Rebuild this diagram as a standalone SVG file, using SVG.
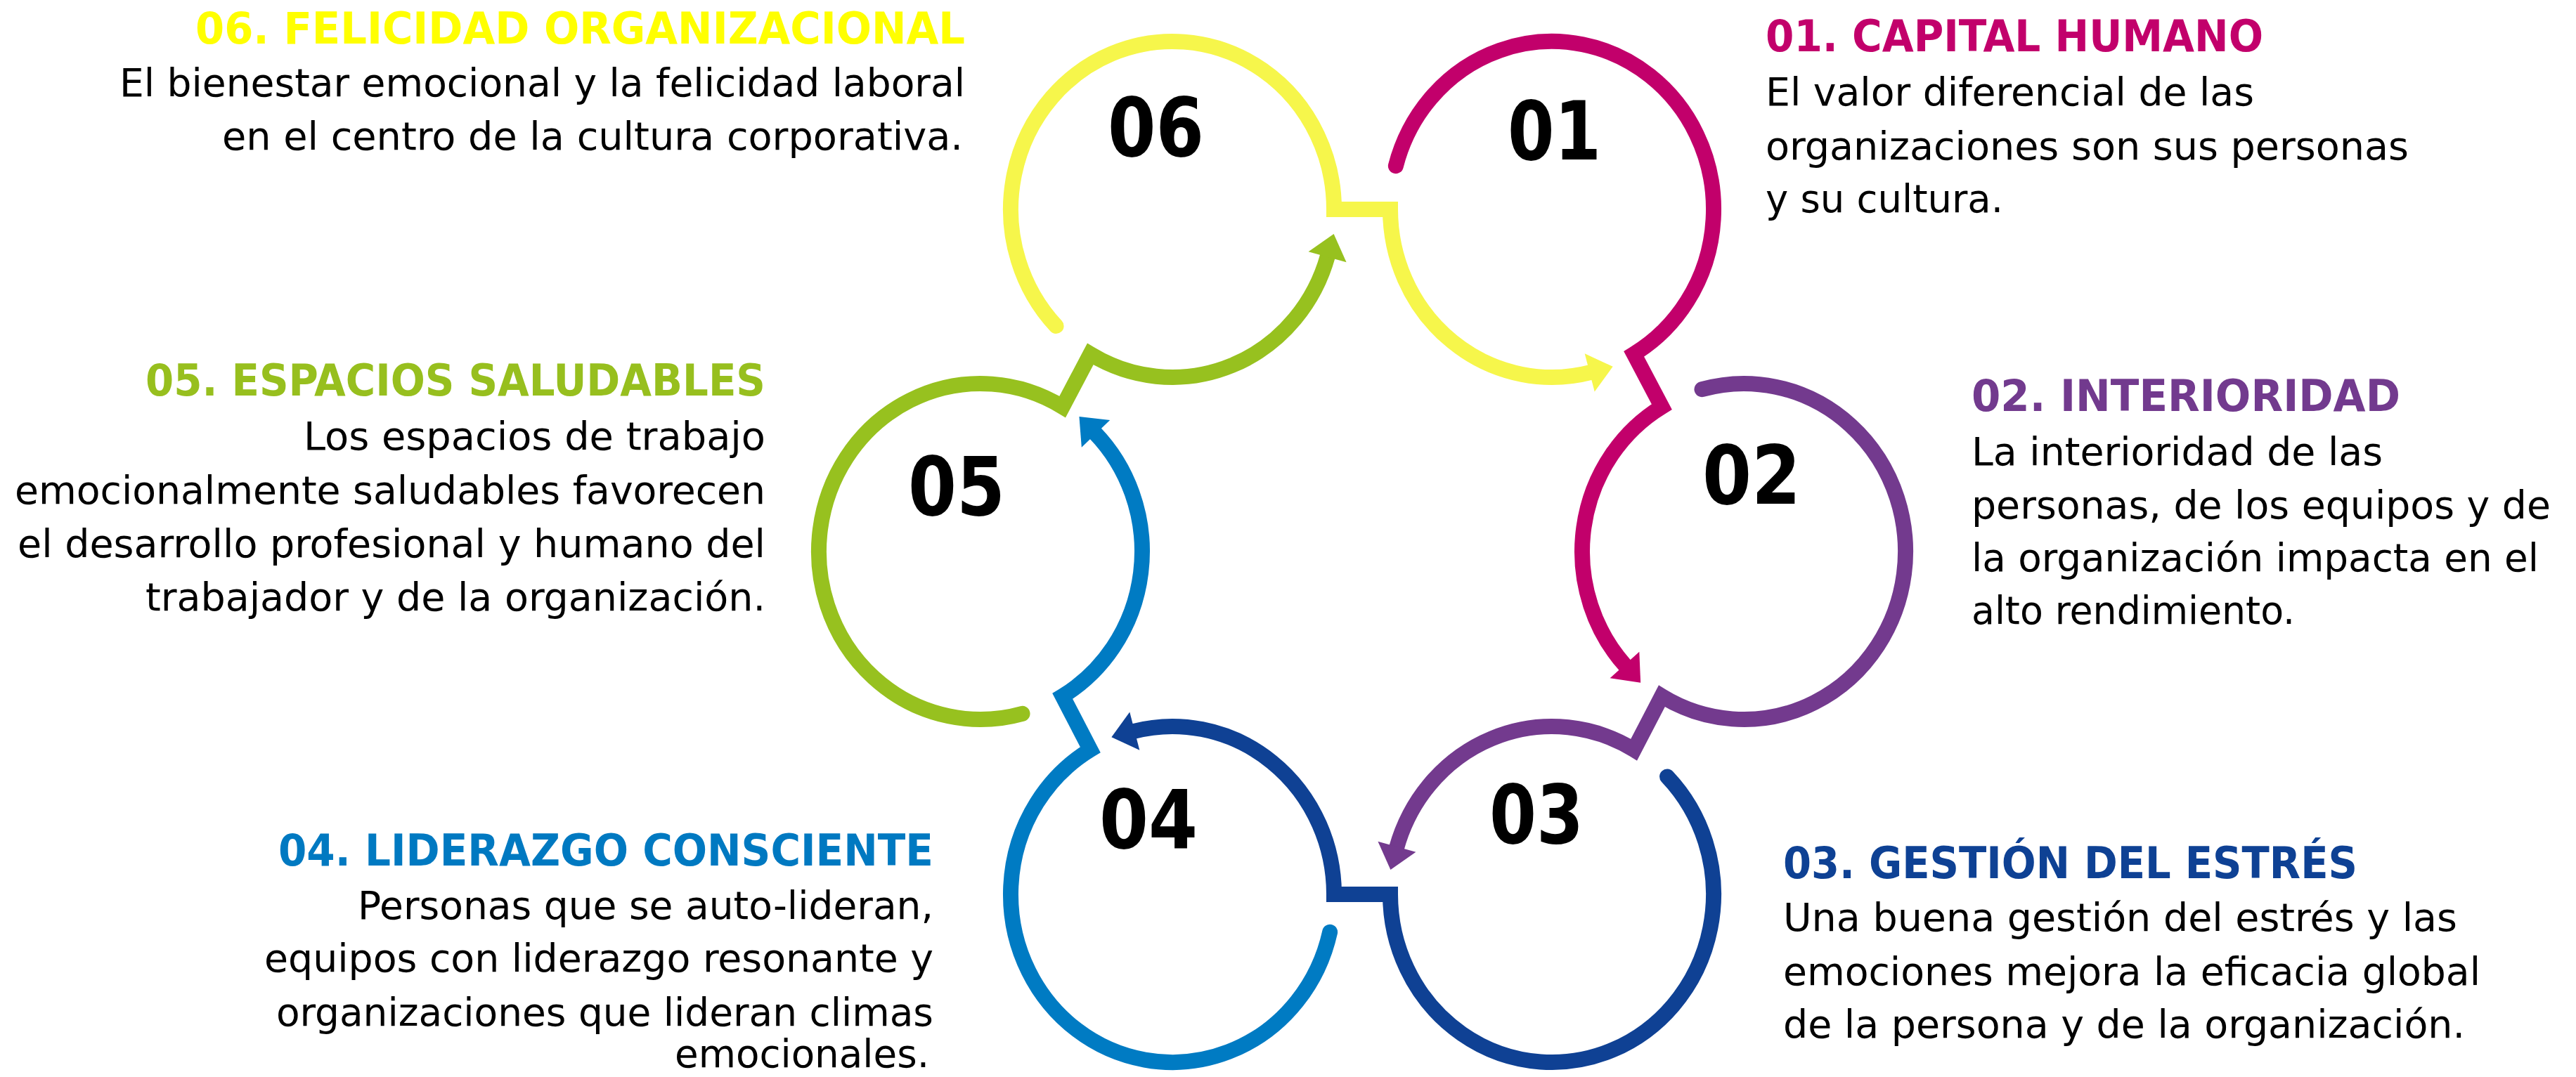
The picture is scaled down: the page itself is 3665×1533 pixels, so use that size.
<svg xmlns="http://www.w3.org/2000/svg" width="3665" height="1533" viewBox="0 0 3665 1533">
<style>
.ring{fill:none;stroke-width:22;stroke-linecap:round;stroke-linejoin:miter;stroke-miterlimit:6}
.t{font-family:"DejaVu Sans Condensed","DejaVu Sans",sans-serif;font-stretch:condensed;font-size:55px;fill:#000000}
.h{font-family:"DejaVu Sans Condensed","DejaVu Sans",sans-serif;font-stretch:condensed;font-weight:bold;font-size:62px}
.n{font-family:"DejaVu Sans Condensed","DejaVu Sans",sans-serif;font-stretch:condensed;font-weight:bold;font-size:115px;fill:#000000}
</style>
<defs>
<marker id="ah-y" markerUnits="userSpaceOnUse" markerWidth="40" markerHeight="64" refX="0" refY="32" orient="auto" overflow="visible"><path d="M-2,4 L32,32 L-2,60 Z" fill="#F6F64B"/></marker>
<marker id="ah-m" markerUnits="userSpaceOnUse" markerWidth="40" markerHeight="64" refX="0" refY="32" orient="auto" overflow="visible"><path d="M-2,4 L32,32 L-2,60 Z" fill="#C2006B"/></marker>
<marker id="ah-p" markerUnits="userSpaceOnUse" markerWidth="40" markerHeight="64" refX="0" refY="32" orient="auto" overflow="visible"><path d="M-2,4 L32,32 L-2,60 Z" fill="#733A8E"/></marker>
<marker id="ah-d" markerUnits="userSpaceOnUse" markerWidth="40" markerHeight="64" refX="0" refY="32" orient="auto" overflow="visible"><path d="M-2,4 L32,32 L-2,60 Z" fill="#0F4194"/></marker>
<marker id="ah-b" markerUnits="userSpaceOnUse" markerWidth="40" markerHeight="64" refX="0" refY="32" orient="auto" overflow="visible"><path d="M-2,4 L32,32 L-2,60 Z" fill="#007BC3"/></marker>
<marker id="ah-g" markerUnits="userSpaceOnUse" markerWidth="40" markerHeight="64" refX="0" refY="32" orient="auto" overflow="visible"><path d="M-2,4 L32,32 L-2,60 Z" fill="#97C11F"/></marker>
</defs>
<rect width="3665" height="1533" fill="#FFFFFF"/>
<g id="connectors">
<path class="ring" stroke="#F6F64B" marker-end="url(#ah-y)" d="M1502.55,464.02 A230,239 0 1 1 1898,298 L1978,298 A230,239 0 0 0 2263.64,529.90"/>
<path class="ring" stroke="#C2006B" marker-end="url(#ah-m)" d="M1985.84,236.14 A230,239 0 1 1 2324.7,503.9 L2364.3,579.1 A230,239 0 0 0 2312.79,948.00"/>
<path class="ring" stroke="#733A8E" marker-end="url(#ah-p)" d="M2421.47,554.14 A230,239 0 1 1 2364.3,990.9 L2324.7,1067.1 A230,239 0 0 0 1986.91,1207.12"/>
<path class="ring" stroke="#0F4194" marker-end="url(#ah-d)" d="M2372.05,1105.48 A230,239 0 1 1 1978,1273 L1898,1273 A230,239 0 0 0 1612.36,1041.10"/>
<path class="ring" stroke="#007BC3" marker-end="url(#ah-b)" d="M1892.11,1326.76 A230,239 0 1 1 1551.3,1067.1 L1511.7,990.9 A230,239 0 0 0 1557.63,616.00"/>
<path class="ring" stroke="#97C11F" marker-end="url(#ah-g)" d="M1454.53,1015.86 A230,239 0 1 1 1511.7,579.1 L1551.3,503.9 A230,239 0 0 0 1889.09,363.88"/>
</g>
<g id="node-01">
<text class="n" x="2145" y="227" textLength="133" lengthAdjust="spacingAndGlyphs">01</text>
<text class="h" fill="#C2006B" x="2512" y="73" textLength="708" lengthAdjust="spacingAndGlyphs">01. CAPITAL HUMANO</text>
<text class="t" x="2512" y="150" textLength="695" lengthAdjust="spacingAndGlyphs">El valor diferencial de las</text>
<text class="t" x="2512" y="227" textLength="915" lengthAdjust="spacingAndGlyphs">organizaciones son sus personas</text>
<text class="t" x="2512" y="302" textLength="338" lengthAdjust="spacingAndGlyphs">y su cultura.</text>
</g>
<g id="node-02">
<text class="n" x="2422" y="717" textLength="140" lengthAdjust="spacingAndGlyphs">02</text>
<text class="h" fill="#723A8E" x="2805" y="585" textLength="610" lengthAdjust="spacingAndGlyphs">02. INTERIORIDAD</text>
<text class="t" x="2805" y="662" textLength="585" lengthAdjust="spacingAndGlyphs">La interioridad de las</text>
<text class="t" x="2805" y="738" textLength="824" lengthAdjust="spacingAndGlyphs">personas, de los equipos y de</text>
<text class="t" x="2805" y="813" textLength="807" lengthAdjust="spacingAndGlyphs">la organización impacta en el</text>
<text class="t" x="2805" y="888" textLength="460" lengthAdjust="spacingAndGlyphs">alto rendimiento.</text>
</g>
<g id="node-03">
<text class="n" x="2119" y="1200" textLength="134" lengthAdjust="spacingAndGlyphs">03</text>
<text class="h" fill="#0E4194" x="2537" y="1250" textLength="817" lengthAdjust="spacingAndGlyphs">03. GESTIÓN DEL ESTRÉS</text>
<text class="t" x="2537" y="1325" textLength="959" lengthAdjust="spacingAndGlyphs">Una buena gestión del estrés y las</text>
<text class="t" x="2537" y="1402" textLength="992" lengthAdjust="spacingAndGlyphs">emociones mejora la eficacia global</text>
<text class="t" x="2537" y="1477" textLength="970" lengthAdjust="spacingAndGlyphs">de la persona y de la organización.</text>
</g>
<g id="node-04">
<text class="n" x="1564" y="1207" textLength="140" lengthAdjust="spacingAndGlyphs">04</text>
<text class="h" fill="#0079C1" x="396" y="1232" textLength="932" lengthAdjust="spacingAndGlyphs">04. LIDERAZGO CONSCIENTE</text>
<text class="t" x="509" y="1308" textLength="819" lengthAdjust="spacingAndGlyphs">Personas que se auto-lideran,</text>
<text class="t" x="376" y="1383" textLength="952" lengthAdjust="spacingAndGlyphs">equipos con liderazgo resonante y</text>
<text class="t" x="393" y="1460" textLength="935" lengthAdjust="spacingAndGlyphs">organizaciones que lideran climas</text>
<text class="t" x="960" y="1519" textLength="362" lengthAdjust="spacingAndGlyphs">emocionales.</text>
</g>
<g id="node-05">
<text class="n" x="1292" y="733" textLength="138" lengthAdjust="spacingAndGlyphs">05</text>
<text class="h" fill="#97BF1E" x="207" y="563" textLength="882" lengthAdjust="spacingAndGlyphs">05. ESPACIOS SALUDABLES</text>
<text class="t" x="432" y="640" textLength="657" lengthAdjust="spacingAndGlyphs">Los espacios de trabajo</text>
<text class="t" x="21" y="717" textLength="1068" lengthAdjust="spacingAndGlyphs">emocionalmente saludables favorecen</text>
<text class="t" x="25" y="793" textLength="1064" lengthAdjust="spacingAndGlyphs">el desarrollo profesional y humano del</text>
<text class="t" x="207" y="869" textLength="882" lengthAdjust="spacingAndGlyphs">trabajador y de la organización.</text>
</g>
<g id="node-06">
<text class="n" x="1576" y="222" textLength="137" lengthAdjust="spacingAndGlyphs">06</text>
<text class="h" fill="#FFFF00" x="278" y="62" textLength="1095" lengthAdjust="spacingAndGlyphs">06. FELICIDAD ORGANIZACIONAL</text>
<text class="t" x="170" y="137" textLength="1203" lengthAdjust="spacingAndGlyphs">El bienestar emocional y la felicidad laboral</text>
<text class="t" x="316" y="213" textLength="1054" lengthAdjust="spacingAndGlyphs">en el centro de la cultura corporativa.</text>
</g>
</svg>
